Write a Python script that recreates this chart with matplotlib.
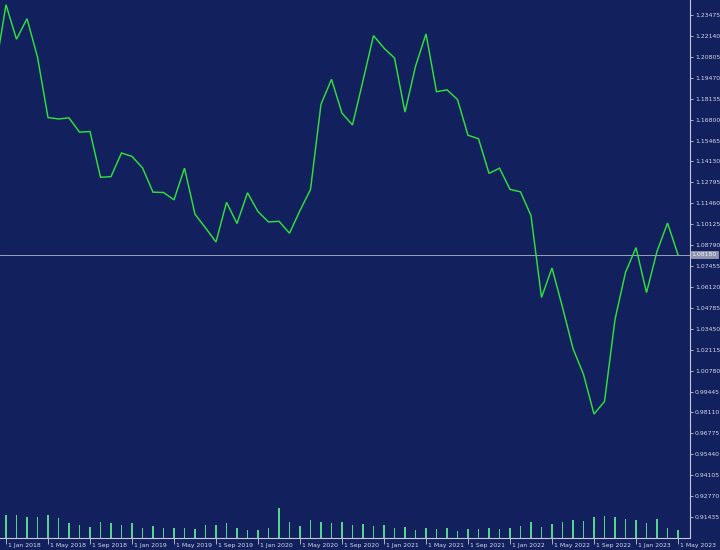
import matplotlib
matplotlib.use("Agg")
import matplotlib.pyplot as plt
from matplotlib.transforms import blended_transform_factory, ScaledTranslation

# ---- data ----
closes = [1.2005,
          1.2413, 1.2193, 1.2324, 1.2079, 1.1693, 1.1684, 1.1691, 1.1600, 1.1604, 1.1312, 1.1316, 1.1467,
          1.1445, 1.1372, 1.1217, 1.1215, 1.1168, 1.1370, 1.1076, 1.0989, 1.0899, 1.1152, 1.1017, 1.1213,
          1.1093, 1.1027, 1.1031, 1.0955, 1.1100, 1.1234, 1.1778, 1.1937, 1.1721, 1.1646, 1.1929, 1.2216,
          1.2136, 1.2073, 1.1728, 1.2020, 1.2227, 1.1858, 1.1870, 1.1808, 1.1580, 1.1558, 1.1337, 1.1370,
          1.1235, 1.1219, 1.1067, 1.0545, 1.0733, 1.0482, 1.0219, 1.0054, 0.9801, 0.9881, 1.0404, 1.0705,
          1.0863, 1.0576, 1.0839, 1.1020, 1.0818]
# tick volume (relative units), Jan 2018 .. May 2023
volumes = [233, 227, 207, 207, 233, 197, 150, 133, 107, 157, 150, 130,
           150, 103, 123, 103, 103, 103, 93, 130, 130, 150, 100, 80,
           83, 100, 300, 160, 123, 177, 157, 150, 160, 133, 137, 123,
           133, 100, 110, 83, 97, 93, 100, 73, 95, 93, 103, 93,
           100, 120, 157, 113, 137, 160, 177, 173, 210, 223, 210, 187,
           180, 150, 187, 103, 77]
current_price = 1.08180
price_ticks = [1.23475, 1.22140, 1.20805, 1.19470, 1.18135, 1.16800, 1.15465, 1.14130,
               1.12795, 1.11460, 1.10125, 1.08790, 1.07455, 1.06120, 1.04785, 1.03450,
               1.02115, 1.00780, 0.99445, 0.98110, 0.96775, 0.95440, 0.94105, 0.92770, 0.91435]
date_tick_labels = ["1 Jan 2018", "1 May 2018", "1 Sep 2018", "1 Jan 2019", "1 May 2019",
                    "1 Sep 2019", "1 Jan 2020", "1 May 2020", "1 Sep 2020", "1 Jan 2021",
                    "1 May 2021", "1 Sep 2021", "1 Jan 2022", "1 May 2022", "1 Sep 2022",
                    "1 Jan 2023", "1 May 2023"]

# ---- style ----
BG = "#12215e"
LINE = "#2fe03a"
VOL = "#55d48e"
AXC = "#c4c8d8"
TXT = "#d4d8e6"
FS = 4.4

W, H = 720, 550
fig = plt.figure(figsize=(W / 100, H / 100), dpi=100, facecolor=BG)
plot_right = 690
plot_bottom = 538
rect = [0, 1 - plot_bottom / H, plot_right / W, plot_bottom / H]

# x positions: month index, Jan 2018 = 0
x_close = list(range(-1, len(closes) - 1))
x_vol = list(range(len(volumes)))
px_per_month = 10.5
xmin = -6 / px_per_month
xmax = (plot_right - 6) / px_per_month

# price scale
px_per_unit = 20.92 / 0.01335
ytop = price_ticks[0] + 15 / px_per_unit
ybot = price_ticks[0] - (plot_bottom - 15) / px_per_unit

# volume axes (behind)
axv = fig.add_axes(rect, facecolor=BG)
axv.bar(x_vol, volumes, width=0.15, color=VOL, linewidth=0)
axv.set_xlim(xmin, xmax)
axv.set_ylim(0, 10 * plot_bottom)
axv.axis("off")

# price axes
ax = fig.add_axes(rect)
ax.patch.set_alpha(0)
ax.plot(x_close, closes, color=LINE, lw=1.05, solid_joinstyle="miter", zorder=3)
ax.axhline(current_price, color="#9aa2ba", lw=0.7, zorder=2)
ax.set_xlim(xmin, xmax)
ax.set_ylim(ybot, ytop)

for s in ["top", "left"]:
    ax.spines[s].set_visible(False)
for s in ["right", "bottom"]:
    ax.spines[s].set_color(AXC)
    ax.spines[s].set_linewidth(0.8)

ax.yaxis.tick_right()
ax.set_yticks(price_ticks)
ax.set_yticklabels([f"{v:.5f}" for v in price_ticks])
ax.tick_params(axis="y", length=2.5, width=0.6, color=AXC, labelcolor=TXT,
               labelsize=FS, pad=1)

xt = list(range(0, 4 * len(date_tick_labels), 4))
ax.set_xticks(xt)
ax.set_xticklabels([])
ax.tick_params(axis="x", length=4, width=0.6, color=AXC, direction="out")
trans = blended_transform_factory(ax.transData, ax.transAxes)
off = ScaledTranslation(1.5 / 100, 0, fig.dpi_scale_trans)
for xi, lab in zip(xt, date_tick_labels):
    ax.text(xi, -7 / plot_bottom, lab, transform=trans + off, ha="left", va="center",
            fontsize=FS, color=TXT, clip_on=False)

# current price tag
ax.text(1.0 + 1.5 / plot_right, current_price, f"{current_price:.5f}",
        transform=blended_transform_factory(ax.transAxes, ax.transData),
        ha="left", va="center", fontsize=FS, color="#eef0f6",
        bbox=dict(boxstyle="square,pad=0.15", facecolor="#8d94ac", edgecolor="#b8bccc", lw=0.4),
        clip_on=False, zorder=5)

fig.savefig("out.png", dpi=100, facecolor=BG)
